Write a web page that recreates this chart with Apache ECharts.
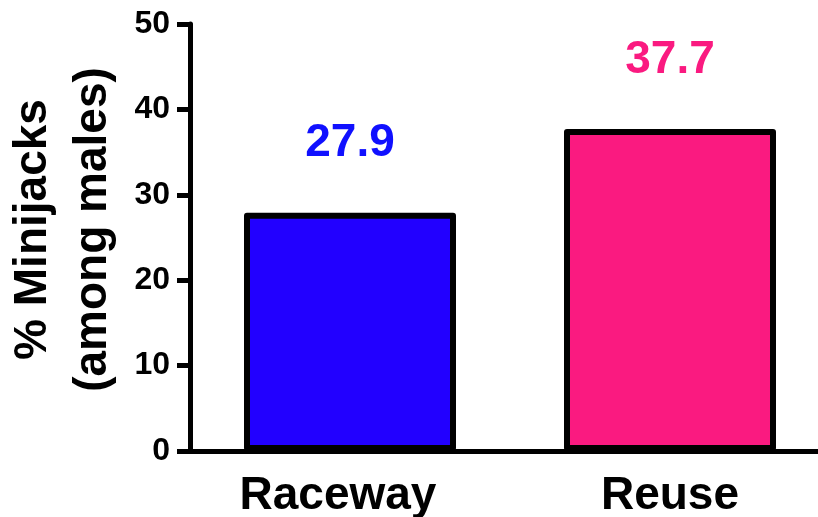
<!DOCTYPE html>
<html>
<head>
<meta charset="utf-8">
<script src="https://cdn.jsdelivr.net/npm/echarts@6/dist/echarts.min.js"></script>
<style>
  html, body { margin: 0; padding: 0; background: #fff; }
  #chart { width: 818px; height: 517px; }
</style>
</head>
<body>
<div id="chart"></div>
<script>
const categories = ['Raceway', 'Reuse'];
const values = [27.9, 37.7];
const barColors = ['#2200ff', '#fa1a80'];
const labelColors = ['#1010ff', '#fa1a80'];
const yTicks = [0, 10, 20, 30, 40, 50];

const chart = echarts.init(document.getElementById('chart'));
const font = 'Liberation Sans, Arial, sans-serif';

const option = {
  animation: false,
  grid: { left: 190, top: 24, width: 640, bottom: 66, outerBoundsMode: 'none', containLabel: false },
  xAxis: {
    type: 'category',
    // first label sits a little left of its tick in the original
    data: categories.map((c, i) => i === 0 ? { value: c, textStyle: { padding: [0, 24, 0, 0] } } : c),
    axisLine: { lineStyle: { color: '#000', width: 5 } },
    axisTick: { alignWithLabel: true, length: 15, lineStyle: { color: '#000', width: 5 } },
    axisLabel: { color: '#000', fontFamily: font, fontWeight: 'bold', fontSize: 46, margin: 22 }
  },
  yAxis: {
    type: 'value',
    min: yTicks[0],
    max: yTicks[yTicks.length - 1],
    interval: 10,
    name: '% Minijacks\n(among males)',
    nameLocation: 'middle',
    nameGap: 64,
    nameTextStyle: { color: '#000', fontFamily: font, fontWeight: 'bold', fontSize: 46, lineHeight: 60, padding: [0, 0, 0, 16] },
    splitLine: { show: false },
    axisLine: { show: true, lineStyle: { color: '#000', width: 5 } },
    axisTick: { show: true, length: 13, lineStyle: { color: '#000', width: 5 } },
    axisLabel: { color: '#000', fontFamily: font, fontWeight: 'bold', fontSize: 32, margin: 20 }
  },
  series: [{
    type: 'bar',
    barWidth: 212,
    data: values.map((v, i) => ({
      value: v,
      itemStyle: { color: barColors[i] },
      label: { color: labelColors[i] }
    })),
    itemStyle: { borderColor: '#000', borderWidth: 6, borderJoin: 'round' },
    label: {
      show: true,
      position: 'top',
      distance: 46,
      fontFamily: font,
      fontWeight: 'bold',
      fontSize: 46,
      formatter: p => p.value.toFixed(1)
    }
  }]
};

chart.setOption(option);
</script>
</body>
</html>
